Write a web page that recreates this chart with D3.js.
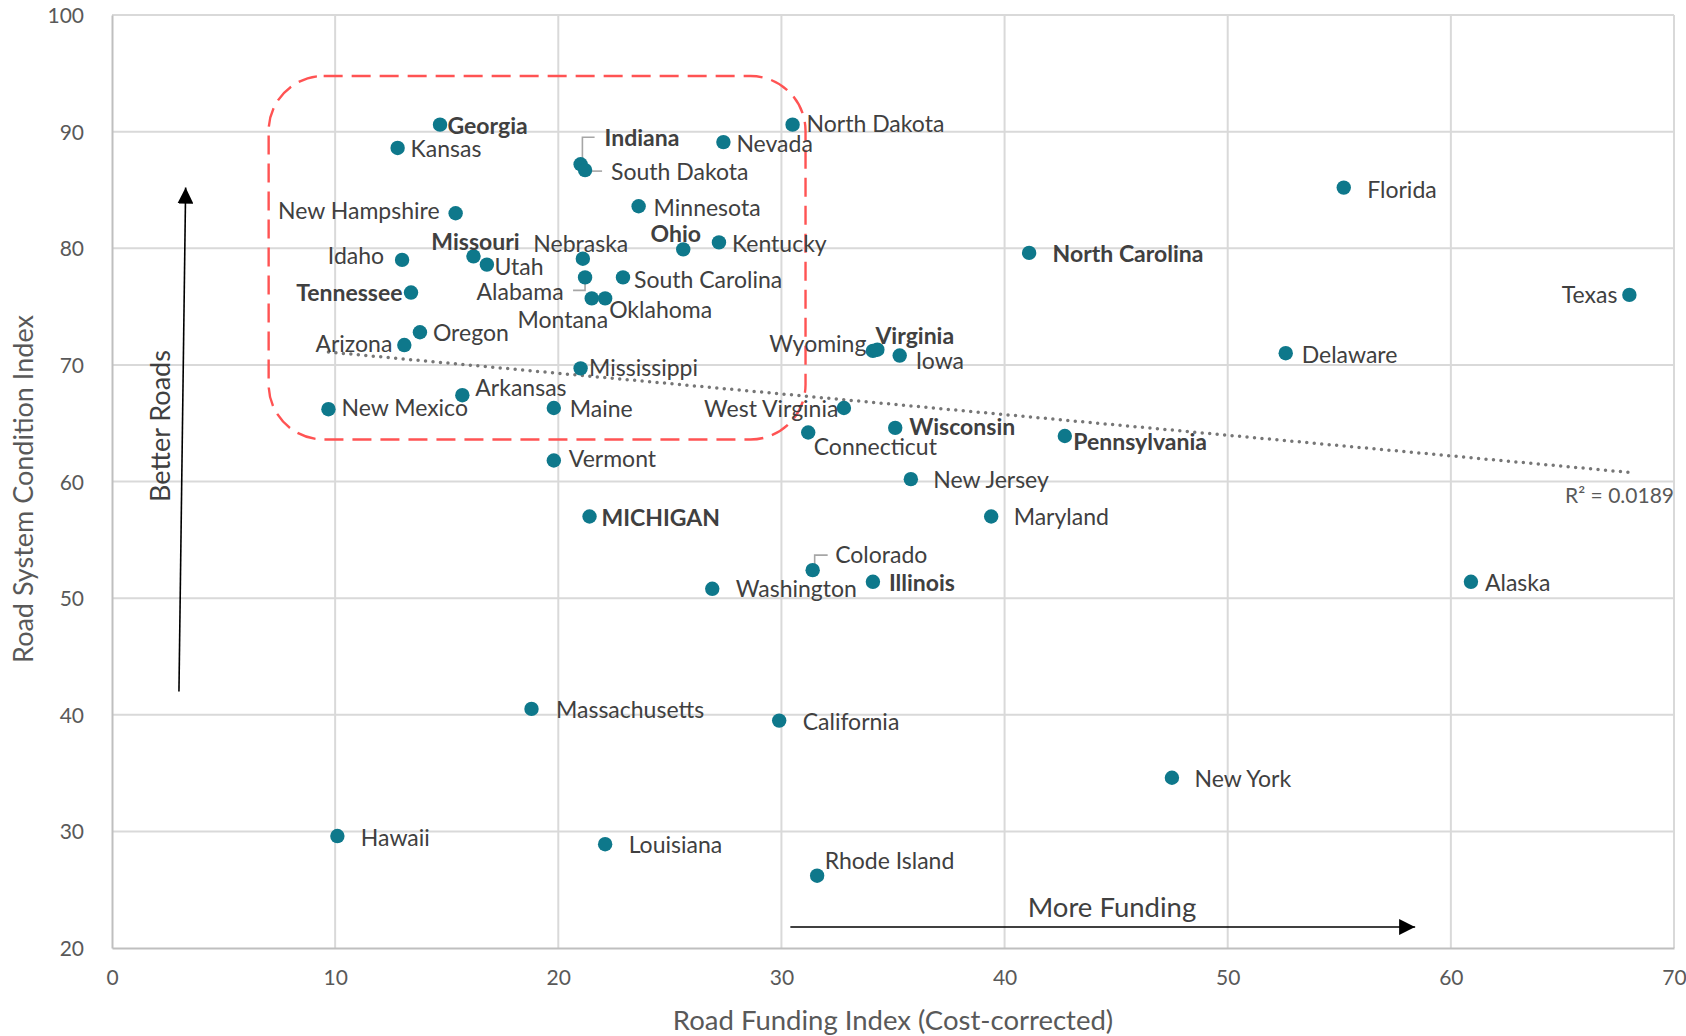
<!DOCTYPE html>
<html>
<head>
<meta charset="utf-8">
<script src="https://cdn.jsdelivr.net/npm/d3@7"></script>
<style>
  html, body { margin: 0; padding: 0; background: #ffffff; }
  svg { display: block; font-family: Lato, "Open Sans", sans-serif; }
</style>
</head>
<body>
<svg id="chart" width="1686" height="1036"></svg>
<script>
// ---------------- DATA ----------------
const states = ["Georgia","Kansas","New Hampshire","Idaho","Missouri","Utah","Tennessee","Oregon","Arizona","New Mexico",
  "Arkansas","Indiana","South Dakota","Nebraska","Alabama","Montana","Oklahoma","South Carolina","Minnesota","Ohio",
  "Kentucky","Nevada","North Dakota","Mississippi","Maine","Vermont","MICHIGAN","Washington","Colorado","Illinois",
  "West Virginia","Connecticut","Wyoming","Virginia","Iowa","Wisconsin","New Jersey","Maryland","Pennsylvania","North Carolina",
  "Florida","Delaware","Texas","Alaska","New York","Massachusetts","California","Hawaii","Louisiana","Rhode Island"];
const fundingIndex = [14.7,12.8,15.4,13.0,16.2,16.8,13.4,13.8,13.1,9.7,
  15.7,21.0,21.2,21.1,21.2,21.5,22.1,22.9,23.6,25.6,
  27.2,27.4,30.5,21.0,19.8,19.8,21.4,26.9,31.4,34.1,
  32.8,31.2,34.1,34.3,35.3,35.1,35.8,39.4,42.7,41.1,
  55.2,52.6,68.0,60.9,47.5,18.8,29.9,10.1,22.1,31.6];
const conditionIndex = [90.6,88.6,83.0,79.0,79.3,78.6,76.2,72.8,71.7,66.2,
  67.4,87.2,86.7,79.1,77.5,75.7,75.7,77.5,83.6,79.9,
  80.5,89.1,90.6,69.7,66.3,61.8,57.0,50.8,52.4,51.4,
  66.3,64.2,71.2,71.3,70.8,64.6,60.2,57.0,63.9,79.6,
  85.2,71.0,76.0,51.4,34.6,40.5,39.5,29.6,28.9,26.2];
const boldStates = ["Georgia","Missouri","Tennessee","Indiana","Ohio","Virginia","Wisconsin","Pennsylvania","North Carolina","MICHIGAN","Illinois"];
const xTicks = [0,10,20,30,40,50,60,70];
const yTicks = [20,30,40,50,60,70,80,90,100];
const xTitle = "Road Funding Index (Cost-corrected)";
const yTitle = "Road System Condition Index";
const rSquaredText = "R² = 0.0189";
const highlightBox = {x0: 7.02, x1: 31.08, y0: 63.6, y1: 94.77}; // data units
const betterRoadsArrow = {x0: 3.0, y0: 42.0, x1: 3.3, y1: 85.2};
const moreFundingArrow = {x0: 30.4, y0: 21.8, x1: 58.4, y1: 21.8};

// ---------------- LAYOUT (label placement, px) ----------------
const labelPos = {
  "Georgia":[7.5,1,"start"],"Kansas":[13,1,"start"],"New Hampshire":[-16,-3,"end"],"Idaho":[-18,-4,"end"],
  "Missouri":[2,-15,"middle"],"Nebraska":[-2,-15,"middle"],"Utah":[7.5,2,"start"],"Tennessee":[-8.5,0,"end"],
  "Alabama":[-21.5,14,"end"],"Montana":[-29,21.5,"middle"],"Oklahoma":[4,11,"start"],"South Carolina":[11,2,"start"],
  "Minnesota":[15,1,"start"],"Ohio":[-7.5,-16,"middle"],"Kentucky":[13,1,"start"],"Nevada":[13,2,"start"],
  "North Dakota":[14,-1,"start"],"Indiana":[24,-27,"start"],"South Dakota":[26,2,"start"],"Mississippi":[8.5,-1,"start"],
  "Arkansas":[13,-7.5,"start"],"New Mexico":[13,-1,"start"],"Arizona":[-12,-1,"end"],"Oregon":[13,0,"start"],
  "Maine":[16,1,"start"],"Vermont":[15,-2,"start"],"MICHIGAN":[12,1,"start"],"West Virginia":[-5.5,1,"end"],
  "Connecticut":[5.5,14,"start"],"Wyoming":[-6.5,-7.5,"end"],"Virginia":[-2,-14,"start"],"Iowa":[16,5.5,"start"],
  "Wisconsin":[14,-1,"start"],"Pennsylvania":[8.5,5.5,"start"],"New Jersey":[22.5,1,"start"],"Maryland":[22.5,0,"start"],
  "North Carolina":[23.5,1,"start"],"Florida":[23.5,2,"start"],"Delaware":[16,2,"start"],"Texas":[-12,0,"end"],
  "Alaska":[14,1,"start"],"New York":[22.5,1,"start"],"Washington":[23.5,0,"start"],"Colorado":[22.5,-15,"start"],
  "Illinois":[16,1,"start"],"Massachusetts":[24.5,1,"start"],"California":[23.5,1,"start"],"Hawaii":[23.5,2,"start"],
  "Louisiana":[23.5,1,"start"],"Rhode Island":[7.5,-15,"start"]
};
const leaders = {
  "Indiana": [[1.8,-5],[1.8,-27],[14,-27]],
  "South Dakota": [[0,1],[17,1]],
  "Alabama": [[0,2],[0,13],[-12,13]],
  "Colorado": [[2,-4],[2,-15],[15,-15]]
};

// ---------------- CHART ----------------
const svg = d3.select("#chart");
const L = 112, R = 1674, T = 15, B = 948;
const x = d3.scaleLinear().domain([0,70]).range([L,R]);
const y = d3.scaleLinear().domain([20,100]).range([B,T]);

const data = states.map((s,i)=>({name:s, fx:fundingIndex[i], cy:conditionIndex[i]}));

// gridlines
const grid = svg.append("g");
grid.selectAll(".vg").data(xTicks.filter(t=>t>0)).join("line")
  .attr("x1",d=>x(d)).attr("x2",d=>x(d)).attr("y1",T).attr("y2",B)
  .attr("stroke","#d9d9d9").attr("stroke-width",2);
grid.selectAll(".hg").data(yTicks.filter(t=>t>20)).join("line")
  .attr("x1",L).attr("x2",R).attr("y1",d=>y(d)).attr("y2",d=>y(d))
  .attr("stroke","#d9d9d9").attr("stroke-width",2);

// axes
const xAxis = svg.append("g").attr("transform",`translate(0,${B})`)
  .call(d3.axisBottom(x).tickValues(xTicks).tickSize(0).tickPadding(22));
const yAxis = svg.append("g").attr("transform",`translate(${L},0)`)
  .call(d3.axisLeft(y).tickValues(yTicks).tickSize(0).tickPadding(28));
[xAxis,yAxis].forEach(a=>{
  a.select(".domain").attr("stroke","#bfbfbf").attr("stroke-width",2);
  a.selectAll("text").attr("fill","#595959").style("font-size","21px").style("font-family","Lato, sans-serif");
});
yAxis.selectAll("text").attr("dy","0.36em");

// axis titles
svg.append("text").attr("x",(L+R)/2).attr("y",1030).attr("text-anchor","middle")
  .attr("fill","#595959").style("font-size","27.5px").text(xTitle);
svg.append("text").attr("transform","translate(33,489) rotate(-90)").attr("text-anchor","middle")
  .attr("fill","#595959").style("font-size","27px").text(yTitle);

// highlight box
const bx = x(highlightBox.x0), bw = x(highlightBox.x1)-bx, by = y(highlightBox.y1), bh = y(highlightBox.y0)-by;
svg.append("rect").attr("x",bx).attr("y",by).attr("width",bw).attr("height",bh)
  .attr("rx",55).attr("ry",55).attr("fill","none").attr("stroke","#ff5353")
  .attr("stroke-width",2.4).attr("stroke-dasharray","19,9");

// trendline (least squares)
const mx = d3.mean(data,d=>d.fx), my = d3.mean(data,d=>d.cy);
const slope = d3.sum(data,d=>(d.fx-mx)*(d.cy-my))/d3.sum(data,d=>(d.fx-mx)*(d.fx-mx));
const intercept = my - slope*mx;
const [xmin,xmax] = d3.extent(data,d=>d.fx);
svg.append("line").attr("x1",x(xmin)).attr("y1",y(intercept+slope*xmin))
  .attr("x2",x(xmax)).attr("y2",y(intercept+slope*xmax))
  .attr("stroke","#767676").attr("stroke-width",3.5).attr("stroke-linecap","round")
  .attr("stroke-dasharray","0,7.5");
svg.append("text").attr("x",R).attr("y",y(intercept+slope*xmax)+31).attr("text-anchor","end")
  .attr("fill","#595959").style("font-size","21px").text(rSquaredText);

// arrows
const defs = svg.append("defs");
defs.append("marker").attr("id","ah").attr("viewBox","0 0 10 10").attr("refX",10).attr("refY",5)
  .attr("markerWidth",16).attr("markerHeight",16).attr("markerUnits","userSpaceOnUse")
  .attr("orient","auto").append("path").attr("d","M0,0 L10,5 L0,10 Z").attr("fill","#000");
svg.append("line").attr("x1",x(betterRoadsArrow.x0)).attr("y1",y(betterRoadsArrow.y0))
  .attr("x2",x(betterRoadsArrow.x1)).attr("y2",y(betterRoadsArrow.y1))
  .attr("stroke","#000").attr("stroke-width",1.6).attr("marker-end","url(#ah)");
svg.append("line").attr("x1",x(moreFundingArrow.x0)).attr("y1",y(moreFundingArrow.y0))
  .attr("x2",x(moreFundingArrow.x1)).attr("y2",y(moreFundingArrow.y1))
  .attr("stroke","#000").attr("stroke-width",1.6).attr("marker-end","url(#ah)");
svg.append("text").attr("transform","translate(170,426) rotate(-90)").attr("text-anchor","middle")
  .attr("fill","#404040").style("font-size","27px").text("Better Roads");
svg.append("text").attr("x",1112).attr("y",917).attr("text-anchor","middle")
  .attr("fill","#404040").style("font-size","27.5px").text("More Funding");

// leader lines
Object.entries(leaders).forEach(([name,pts])=>{
  const d = data.find(e=>e.name===name);
  svg.append("polyline").attr("points",pts.map(p=>[x(d.fx)+p[0],y(d.cy)+p[1]].join(",")).join(" "))
    .attr("fill","none").attr("stroke","#a6a6a6").attr("stroke-width",1.6);
});

// points
svg.append("g").selectAll("circle").data(data).join("circle")
  .attr("cx",d=>x(d.fx)).attr("cy",d=>y(d.cy)).attr("r",7.2).attr("fill","#0e788b");

// labels
svg.append("g").selectAll("text").data(data).join("text")
  .attr("x",d=>x(d.fx)+labelPos[d.name][0]).attr("y",d=>y(d.cy)+labelPos[d.name][1])
  .attr("dy","0.36em").attr("text-anchor",d=>labelPos[d.name][2])
  .attr("fill","#404040").style("font-size","23px")
  .style("font-weight",d=>boldStates.includes(d.name)?"bold":"normal")
  .text(d=>d.name);
</script>
</body>
</html>
